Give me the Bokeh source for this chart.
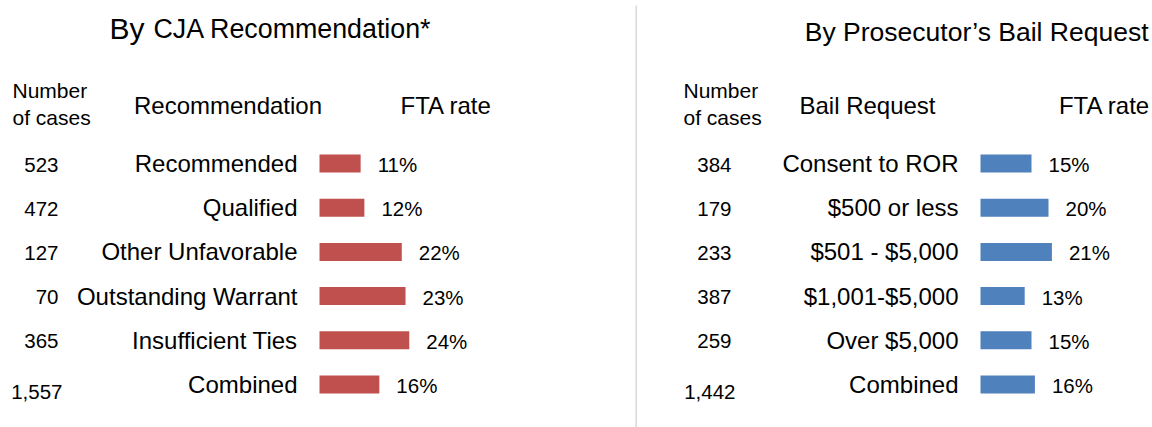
from bokeh.plotting import figure
from bokeh.models import Range1d, ColumnDataSource
from bokeh.layouts import row
from bokeh.core.properties import value
from bokeh.embed import file_html
from bokeh.resources import INLINE

# ---- data ----
cja_categories = ["Recommended", "Qualified", "Other Unfavorable",
                  "Outstanding Warrant", "Insufficient Ties", "Combined"]
cja_cases = [523, 472, 127, 70, 365, 1557]
cja_fta = [11, 12, 22, 23, 24, 16]

bail_categories = ["Consent to ROR", "$500 or less", "$501 - $5,000",
                   "$1,001-$5,000", "Over $5,000", "Combined"]
bail_cases = [384, 179, 233, 387, 259, 1442]
bail_fta = [15, 20, 21, 13, 15, 16]

FONT = value("Liberation Sans")
RED = "#C0504D"
BLUE = "#4F81BD"

H = 427
ROW_PX = 44.2
ROW0 = 163  # y of first row centre
Y0 = 0      # y of figure top


def yy(sy):
    return (sy - ROW0) / ROW_PX


def make_panel(width, sx0, x_zero, px_per_pct, cats, cases, fta, color,
               count_right, cat_right, headers, title_parts):
    def dx(sx):
        return (sx - x_zero) / px_per_pct

    p = figure(width=width, height=H, output_backend="svg", toolbar_location=None,
               x_range=Range1d(dx(sx0), dx(sx0 + width)),
               y_range=Range1d(yy(Y0 + H), yy(Y0)),
               min_border=0, min_border_left=0, min_border_right=0,
               min_border_top=0, min_border_bottom=0)
    p.xaxis.visible = False
    p.yaxis.visible = False
    p.grid.visible = False
    p.outline_line_color = None
    p.background_fill_color = "white"
    p.border_fill_color = "white"

    n = len(cats)
    rows = list(range(n))
    src = ColumnDataSource(dict(
        y=rows, fta=fta, cat=cats,
        cnt=[f"{c:,}" for c in cases],
        pct=[f"{v}%" for v in fta],
        cnt_x=[dx(count_right)] * n,
        cnt_xo=[0] * (n - 1) + [4],
        cnt_yo=[1] * (n - 1) + [7],
        cat_x=[dx(cat_right)] * n,
    ))
    p.hbar(y="y", left=0, right="fta", height=18 / ROW_PX, source=src,
           fill_color=color, line_color=None)
    p.text(x="fta", y="y", text="pct", source=src, x_offset=17, y_offset=1,
           text_font=FONT, text_font_size="20.5px", text_color="black",
           text_align="left", text_baseline="alphabetic")
    p.text(x="cat_x", y="y", text="cat", source=src, y_offset=0,
           text_font=FONT, text_font_size="24px", text_color="black",
           text_align="right", text_baseline="alphabetic")
    p.text(x="cnt_x", y="y", text="cnt", source=src, x_offset="cnt_xo", y_offset="cnt_yo",
           text_font=FONT, text_font_size="20.5px", text_color="black",
           text_align="right", text_baseline="alphabetic")

    for (txt, sx, sy, size, align) in headers:
        p.text(x=[dx(sx)], y=[yy(sy)], text=[txt], text_font=FONT,
               text_font_size=size, text_color="black", text_align=align,
               text_baseline="alphabetic")
    for (txt, sx, sy, size, align) in title_parts:
        p.text(x=[dx(sx)], y=[yy(sy)], text=[txt], text_font=FONT,
               text_font_size=size, text_color="black", text_align=align,
               text_baseline="alphabetic")
    return p, dx


left_headers = [
    ("Number", 12, 90, "21px", "left"),
    ("of cases", 12, 117, "21px", "left"),
    ("Recommendation", 227.5, 105, "24px", "center"),
    ("FTA rate", 400, 105, "24px", "left"),
]
left_title = [("By", 109, 28, "30px", "left"),
              ("CJA Recommendation*", 153, 28, "26.8px", "left")]

right_headers = [
    ("Number", 683, 90, "21px", "left"),
    ("of cases", 683, 117, "21px", "left"),
    ("Bail Request", 867, 105, "24px", "center"),
    ("FTA rate", 1150, 105, "24px", "right"),
]
right_title = [("By Prosecutor\u2019s Bail Request", 1148, 31, "26.5px", "right")]

p1, dx1 = make_panel(637, 0, 319, 3.74, cja_categories, cja_cases, cja_fta, RED,
                     58, 297, left_headers, left_title)
# thin grey divider between the two panels
p1.segment(x0=[dx1(636)], x1=[dx1(636)], y0=[yy(5)], y1=[yy(427)],
           line_color="#D9D9D9", line_width=2)

p2, dx2 = make_panel(515, 637, 980, 3.4, bail_categories, bail_cases, bail_fta, BLUE,
                     731, 958, right_headers, right_title)

layout = row(p1, p2, spacing=0)
open("out.html", "w").write(file_html(layout, INLINE))
